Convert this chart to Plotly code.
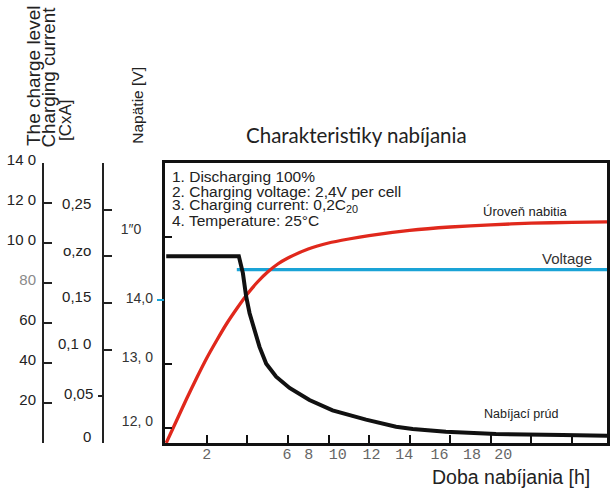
import plotly.graph_objects as go

# ---------------- data ----------------
hours_charge = [0, 0.5, 1, 1.5, 2, 2.5, 3, 3.5, 4, 4.5, 5, 5.5, 6, 7, 8, 9, 10, 12, 14, 16, 18, 20, 22]
charge_level = [0, 11, 22, 32.5, 42.5, 51.5, 60, 67.5, 74.5, 80.5, 85.5, 89.5, 92.5, 97, 100, 102, 103.7,
                106.3, 108, 109.1, 109.9, 110.3, 110.6]

hours_current = [0, 3.58, 3.78, 3.94, 4.11, 4.35, 4.6, 4.93, 5.42, 6.08, 7.06, 8.2, 9.85, 11.33,
                 12.15, 13.79, 16.26, 19.54, 22]
charging_current = [0.2, 0.2, 0.182, 0.157, 0.139, 0.121, 0.103, 0.085, 0.071, 0.059, 0.046, 0.035,
                    0.025, 0.0175, 0.015, 0.012, 0.0096, 0.0086, 0.0078]

hours_voltage = [3.48, 22]
voltage = [14.48, 14.48]

x_tick_vals = [2, 4, 6, 8, 10, 12, 14, 16, 18, 20]
x_label_pos = [2.0, 5.95, 7.03, 8.46, 10.12, 11.74, 13.47, 15.08, 16.62]
x_label_text = ["2", "6", "8", "10", "12", "14", "16", "18", "20"]

volt_tick_vals = [12, 13, 15]
volt_tick_text = ["12, 0", "13, 0", "1\u20330\u00a0\u00a0\u00a0"]
volt_mark_vals = [14]
volt_mark_text = ["14,0"]

charge_tick_vals = [0, 20, 40, 60, 80, 100, 120, 140]
charge_tick_text = [" ", "20", "40", "60", "<span style='color:#8a8a8a'>80</span>", "10 0", "12 0", "14 0"]

current_tick_vals = [0, 0.10, 0.15, 0.20, 0.25, 0.30]
current_tick_text = ["0", "0,1 0", "0,15", "o,zo", "0,25", " "]
current_out_vals = [0.05]
current_out_text = ["0,05"]

notes = ["1. Discharging 100%",
         "2. Charging voltage: 2,4V per cell",
         "3. Charging current: 0,2C<sub>20</sub>",
         "4. Temperature: 25°C"]

# ---------------- layout geometry ----------------
W, H = 614, 491
L, R, T, B = 43, 7, 163, 48
PW, PH = W - L - R, H - T - B


def px(xp):
    return (xp - L) / PW


def py(yp):
    return (H - B - yp) / PH


RED = "#e0281c"
CYAN = "#1aa3d6"
BLACK = "#111111"
FONT = "Liberation Sans"

fig = go.Figure()
fig.add_trace(go.Scatter(x=hours_voltage, y=voltage, mode="lines", yaxis="y",
                         line=dict(color=CYAN, width=3.3), hoverinfo="skip"))
fig.add_trace(go.Scatter(x=hours_charge, y=charge_level, mode="lines", yaxis="y2",
                         line=dict(color=RED, width=3.3, shape="spline", smoothing=0.6), hoverinfo="skip"))
fig.add_trace(go.Scatter(x=hours_current, y=charging_current, mode="lines", yaxis="y3",
                         line=dict(color=BLACK, width=4), hoverinfo="skip"))
# empty traces to activate the extra axes
fig.add_trace(go.Scatter(x=[None], y=[None], yaxis="y4", xaxis="x", showlegend=False))
fig.add_trace(go.Scatter(x=[None], y=[None], yaxis="y5", xaxis="x", showlegend=False))
fig.add_trace(go.Scatter(x=[None], y=[None], yaxis="y", xaxis="x2", showlegend=False))

xr = [-0.07, 21.73]
dom_x0 = px(164.8)

fig.update_layout(
    width=W, height=H,
    margin=dict(l=L, r=R, t=T, b=B, autoexpand=False),
    paper_bgcolor="white", plot_bgcolor="white",
    showlegend=False,
    font=dict(family=FONT, color="#222"),
    xaxis=dict(domain=[dom_x0, 1], range=xr, tickmode="array", tickvals=x_tick_vals,
               showticklabels=False, ticks="inside", ticklen=8, tickwidth=2, tickcolor=BLACK,
               showline=True, mirror=True, linewidth=3, linecolor=BLACK,
               showgrid=False, zeroline=False, automargin=False),
    xaxis2=dict(domain=[dom_x0, 1], range=xr, overlaying="x", anchor="y", side="bottom",
                tickmode="array", tickvals=x_label_pos, ticktext=x_label_text, ticks="",
                showline=False, showgrid=False, zeroline=False, automargin=False,
                tickfont=dict(family="Liberation Mono", size=15, color="#666"), ticklabelstandoff=0),
    yaxis=dict(range=[11.76, 16.155], tickmode="array", tickvals=volt_tick_vals, ticktext=volt_tick_text,
               ticks="inside", ticklen=7, tickwidth=2, tickcolor=BLACK,
               showline=True, mirror=True, linewidth=3, linecolor=BLACK,
               showgrid=False, zeroline=False, automargin=False,
               tickfont=dict(size=14, color="#333"), ticklabelstandoff=6, ticklabelshift=-7),
    yaxis5=dict(range=[11.76, 16.155], overlaying="y", anchor="x", side="left",
                tickmode="array", tickvals=volt_mark_vals, ticktext=volt_mark_text,
                ticks="outside", ticklen=7, tickwidth=1.5, tickcolor=CYAN,
                showline=False, showgrid=False, zeroline=False, automargin=False,
                tickfont=dict(size=14, color="#333"), ticklabelstandoff=1, ticklabelshift=-2),
    yaxis2=dict(range=[0, 140], overlaying="y", anchor="free", position=0, side="left",
                tickmode="array", tickvals=charge_tick_vals, ticktext=charge_tick_text,
                ticks="inside", ticklen=8, tickwidth=2, tickcolor="#222",
                showline=True, linewidth=2, linecolor="#222",
                showgrid=False, zeroline=False, automargin=False,
                tickfont=dict(size=15, color="#222"), ticklabelstandoff=3, ticklabelshift=-3),
    yaxis3=dict(range=[0, 0.3], overlaying="y", anchor="free", position=px(103.3), side="left",
                tickmode="array", tickvals=current_tick_vals, ticktext=current_tick_text,
                ticks="inside", ticklen=8, tickwidth=2, tickcolor="#222",
                showline=True, linewidth=2, linecolor="#222",
                showgrid=False, zeroline=False, automargin=False,
                tickfont=dict(size=15, color="#222"), ticklabelstandoff=8, ticklabelshift=-6),
    yaxis4=dict(range=[0, 0.3], overlaying="y", anchor="free", position=px(103.3), side="left",
                tickmode="array", tickvals=current_out_vals, ticktext=current_out_text,
                ticks="outside", ticklen=5, tickwidth=2, tickcolor="#222",
                showline=False, showgrid=False, zeroline=False, automargin=False,
                tickfont=dict(size=15, color="#222"), ticklabelstandoff=2, ticklabelshift=-3),
)

ann = []
ann.append(dict(text="Charakteristiky nabíjania", x=px(356.7), y=py(135), xanchor="center", yanchor="middle",
                font=dict(family="Lato", size=20.5, color="#222")))
for i, t in enumerate(notes):
    ann.append(dict(text=t, x=px(171), y=py(176.5 + 14.6 * i), xanchor="left", yanchor="middle",
                    borderpad=0, font=dict(size=15.5, color="#222")))
ann.append(dict(text="Úroveň nabitia", x=px(525.8), y=py(211.7), xanchor="center", yanchor="middle",
                font=dict(size=13, color="#222")))
ann.append(dict(text="Voltage", x=px(566.7), y=py(258.3), xanchor="center", yanchor="middle",
                font=dict(size=15, color="#333")))
ann.append(dict(text="Nabíjací prúd", x=px(520.8), y=py(414.3), xanchor="center", yanchor="middle",
                font=dict(size=12.5, color="#222")))
ann.append(dict(text="Doba nabíjania [h]", x=px(592), y=py(476.7), xanchor="right", yanchor="middle",
                font=dict(size=19.5, color="#222")))
ann.append(dict(text="Napätie [V]", x=px(136.7), y=py(105), xanchor="center", yanchor="middle",
                textangle=-90, font=dict(size=15.5, color="#222")))
ann.append(dict(text="The charge level", x=px(33), y=py(76), xanchor="center", yanchor="middle",
                textangle=-90, font=dict(size=19, color="#222")))
ann.append(dict(text="Charging current", x=px(48), y=py(77.5), xanchor="center", yanchor="middle",
                textangle=-90, font=dict(size=18.8, color="#222")))
ann.append(dict(text="[CxA]", x=px(65), y=py(120), xanchor="center", yanchor="middle",
                textangle=-90, font=dict(size=17, color="#222")))
for a in ann:
    a.update(xref="paper", yref="paper", showarrow=False)
fig.update_layout(annotations=ann)

fig.write_html("out.html", config={"displayModeBar": False},
               post_script="document.body.style.margin='0';")
